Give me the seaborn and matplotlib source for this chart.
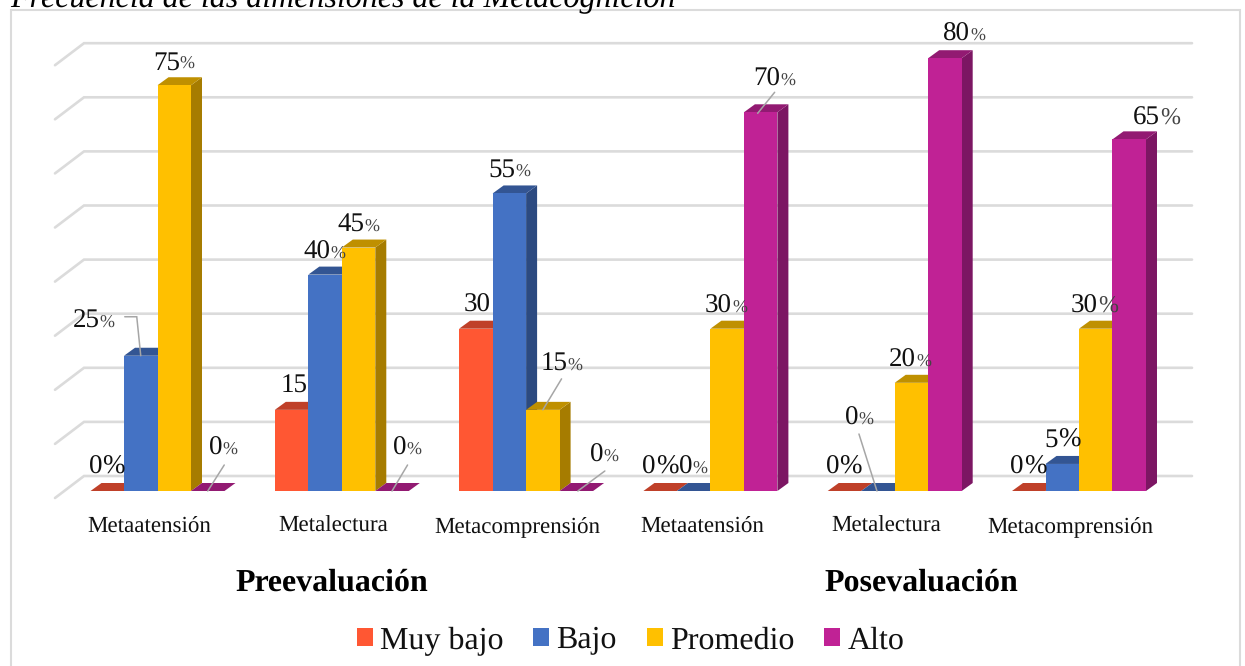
import numpy as np
import pandas as pd
import matplotlib
matplotlib.use("Agg")
import matplotlib.pyplot as plt
from matplotlib.patches import Rectangle
import seaborn as sns

# ---- data ----
stages = ["Preevaluación", "Posevaluación"]
categories = ["Metaatensión", "Metalectura", "Metacomprensión"]
levels = ["Muy bajo", "Bajo", "Promedio", "Alto"]
muy_bajo = [0, 15, 30, 0, 0, 0]
bajo = [25, 40, 55, 0, 0, 5]
promedio = [75, 45, 15, 30, 20, 30]
alto = [0, 0, 0, 70, 80, 65]
title = "Frecuencia de las dimensiones de la Metacognición"

# ---- style ----
front = {"Muy bajo": "#FF5733", "Bajo": "#4472C4", "Promedio": "#FFC000", "Alto": "#C02295"}
top_c = {"Muy bajo": "#BF4029", "Bajo": "#335593", "Promedio": "#BF9000", "Alto": "#921A72"}
side_c = {"Muy bajo": "#A63A23", "Bajo": "#2C4A80", "Promedio": "#A67C00", "Alto": "#7C1663"}
GRID = "#DBDBDB"
W, H = 1245, 666
PX_X, PX_Y = 184.3, 5.41     # pixels per category, pixels per percent
X0, Y0 = 157.5, 491          # pixel of category 0, pixel of value 0
L, R, T = 55, 1192, 44

sns.set_style("white")
plt.rcParams["font.family"] = ["Liberation Serif", "DejaVu Serif"]
plt.rcParams["text.hinting"] = "no_hinting"
plt.rcParams["text.hinting_factor"] = 1

ids = [f"{s}|{c}" for s in stages for c in categories]
df = pd.DataFrame({
    "id": ids * 4,
    "nivel": np.repeat(levels, 6),
    "valor": muy_bajo + bajo + promedio + alto,
})

fig = plt.figure(figsize=(W / 100, H / 100), dpi=100)
fig.patch.set_facecolor("white")
ax = fig.add_axes([L / W, (H - Y0) / H, (R - L) / W, (Y0 - T) / H])
ax.patch.set_alpha(0)
sns.barplot(data=df, x="id", y="valor", hue="nivel", hue_order=levels, order=ids,
            palette=front, saturation=1, width=0.727, gap=0, linewidth=0, ax=ax)

# frame round the chart
fig.add_artist(Rectangle((10.5 / W, -0.02), 1229.5 / W, (H - 10) / H + 0.02, transform=fig.transFigure,
                         fill=False, edgecolor=GRID, linewidth=1.5))
fig.text(10 / W, (H - 7) / H, title, fontsize=23.4, style="italic", color="black",
         ha="left", va="baseline")

# floor / wall lines
sx, sy = 1 / PX_X, 1 / PX_Y
xl = (L - X0) * sx
xb = (84 - X0) * sx
xr = (R - X0) * sx
for v in range(0, 90, 10):
    ax.plot([xl, xb, xr], [v - 7 * sy, v + 15 * sy, v + 15 * sy], color=GRID, lw=1.9,
            solid_joinstyle="miter", zorder=1, clip_on=False)

# depth faces of every bar
dx, dy = 11 * sx, 8 * sy
for h, (cont, lev) in enumerate(zip(ax.containers, levels)):
    base_z = 3 + h * 0.1
    for bar in cont:
        x, w, v = bar.get_x(), bar.get_width(), bar.get_height()
        bar.set_zorder(base_z + 0.05)
        ax.fill([x + w, x + w + dx, x + w + dx, x + w], [0, dy, v + dy, v],
                color=side_c[lev], lw=0, zorder=base_z, clip_on=False)
        ax.fill([x, x + w, x + w + dx, x + dx], [v, v, v + dy, v + dy],
                color=top_c[lev], lw=0, zorder=base_z + 0.01, clip_on=False)
        bar.set_clip_on(False)

# data labels: (group, level) -> offset in pixels from the top centre of the bar, size of the % sign
SMALL, MID, FULL, NONE = 13, 17, 19.4, None
label_style = {
    (0, 0): (-5, 26, FULL), (0, 1): (-41, 37, SMALL), (0, 2): (5.5, 25, SMALL), (0, 3): (15, 45, SMALL),
    (1, 0): (16, 26, NONE), (1, 1): (5.5, 25, SMALL), (1, 2): (6, 25, SMALL), (1, 3): (14, 45, SMALL),
    (2, 0): (15, 26, NONE), (2, 1): (6.5, 25.5, SMALL), (2, 2): (25, 48, SMALL), (2, 3): (27, 38, SMALL),
    (3, 0): (-4.5, 26, FULL), (3, 1): (-1.5, 26, SMALL), (3, 2): (5, 25, SMALL), (3, 3): (20, 36, SMALL),
    (4, 0): (-5, 26, FULL), (4, 1): (-19.5, 75, SMALL), (4, 2): (4.5, 25, SMALL), (4, 3): (25, 26, SMALL),
    (5, 0): (-5, 26, FULL), (5, 1): (-4.5, 26, FULL), (5, 2): (2, 25, MID), (5, 3): (31, 24, MID),
}
leaders = {
    (0, 1): [(-16, 39), (-4, 39), (0, 0)],
    (0, 3): [(16.5, 26), (0, 0)],
    (1, 3): [(15.5, 26), (0, 0)],
    (2, 2): [(18.7, 31), (0, 0)],
    (2, 3): [(28.5, 20), (1.5, 0)],
    (3, 3): [(14, 20), (-3, -1)],
    (4, 1): [(-19, 57), (-1, 0)],
}
for h, cont in enumerate(ax.containers):
    for g, bar in enumerate(cont):
        cx, v = bar.get_x() + bar.get_width() / 2, bar.get_height()
        ox, oy, pct = label_style[(g, h)]
        base = oy - 9
        ax.annotate(f"{v:.0f}", (cx, v), xytext=(ox, base), textcoords="offset pixels",
                    ha="right", va="baseline", fontsize=19.4, color="#111111",
                    zorder=20, annotation_clip=False)
        if pct is not None:
            ax.annotate("%", (cx, v), xytext=(ox, base), textcoords="offset pixels",
                        ha="left", va="baseline", fontsize=pct,
                        color="#111111" if pct == FULL else "#444444",
                        zorder=20, annotation_clip=False)
        if (g, h) in leaders:
            pts = np.array(leaders[(g, h)], dtype=float)
            ax.plot(cx + pts[:, 0] * sx, v + pts[:, 1] * sy, color="#A6A6A6", lw=1.1,
                    zorder=19, clip_on=False, solid_joinstyle="miter")

# axes
ax.set_xticks(np.arange(6) - 8.5 * sx, categories * 2)
ax.tick_params(axis="x", length=0, pad=29.5, labelsize=16.3, labelcolor="#111111")
ax.set_yticks([])
ax.set_xlabel("")
ax.set_ylabel("")
ax.set_xlim(xl, xr)
ax.set_ylim(0, (Y0 - T) * sy)
for spine in ax.spines.values():
    spine.set_visible(False)
for lab in ax.get_xticklabels():
    lab.set_verticalalignment("baseline")

# group headings
for s, px in zip(stages, [332, 921]):
    ax.annotate(s, (px, H - 583), xycoords="figure pixels", ha="center", va="center",
                fontsize=23, fontweight="bold", color="black")

# legend
sns.move_legend(ax, loc="center", bbox_to_anchor=(630.5 / W, (H - 641) / H),
                bbox_transform=fig.transFigure, ncol=4, frameon=False, title=None,
                fontsize=23, handlelength=0.5, handleheight=0.5, handletextpad=0.23,
                columnspacing=0.93, labelcolor="#111111", borderpad=0, borderaxespad=0)

fig.savefig("out.png", dpi=100)
